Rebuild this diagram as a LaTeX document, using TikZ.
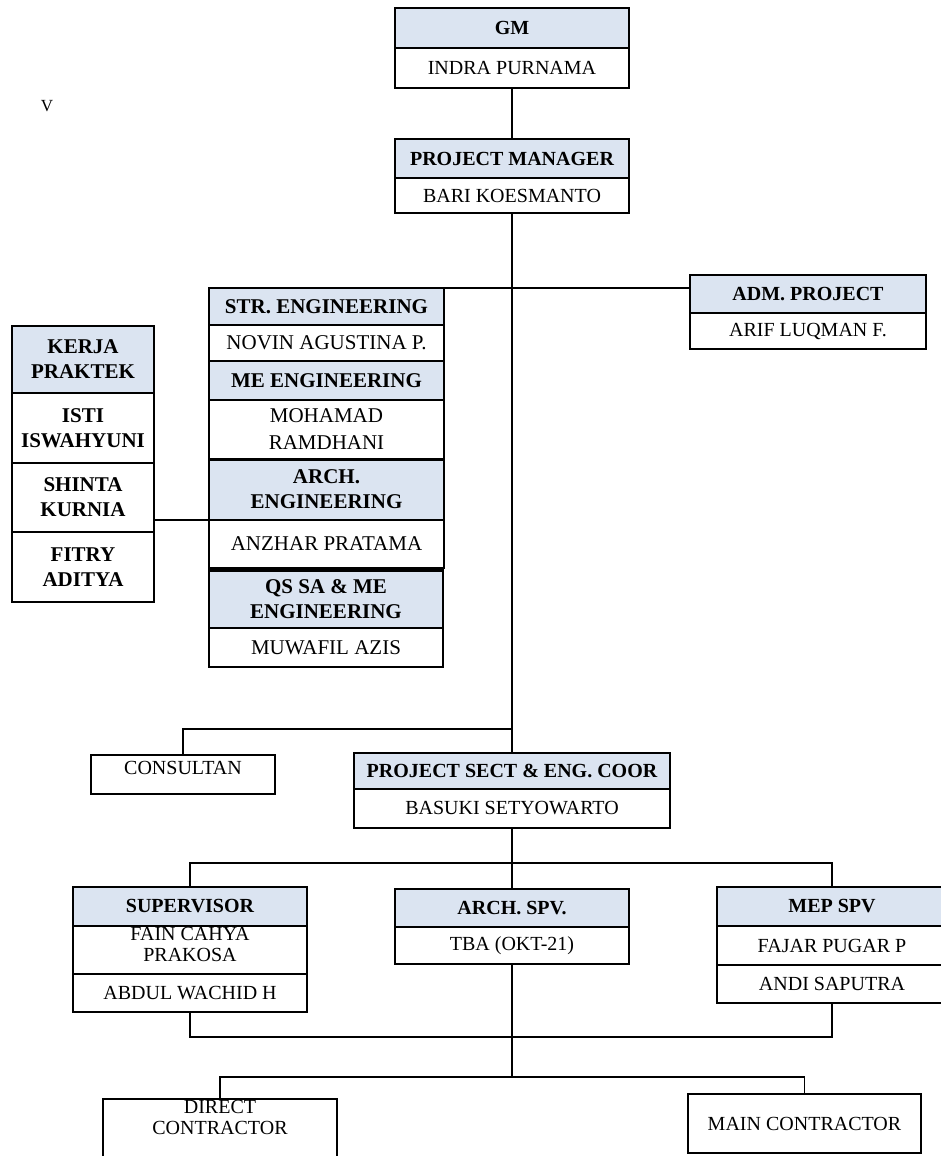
\documentclass[tikz,border=0pt]{standalone}
\usepackage{fontspec}
\setmainfont{Liberation Serif}
\definecolor{hdrblue}{RGB}{219,228,241}
\newcommand\cellnode[7]{%
  \pgfmathsetmacro\cnx{(#3+#5)/2}\pgfmathsetmacro\cny{(#4+#6)/2}%
  \pgfmathsetmacro\cnw{#5-#3}\pgfmathsetmacro\cnh{#6-#4}%
  \node[#1, minimum width=\cnw pt, minimum height=\cnh pt] (#2) at (\cnx,\cny) {#7};}
\tikzset{
  cellbase/.style={draw, line width=1.5pt, inner sep=0pt, outer sep=0pt, align=center},
  hdr/.style={cellbase, fill=hdrblue, font=\bfseries\fontsize{20}{23}\selectfont},
  nm/.style={cellbase, fill=white, font=\fontsize{20}{23}\selectfont},
  hdrL/.style={cellbase, fill=hdrblue, font=\bfseries\fontsize{21}{25}\selectfont},
  nmL/.style={cellbase, fill=white, font=\fontsize{21}{27}\selectfont},
  nmB/.style={cellbase, fill=white, font=\bfseries\fontsize{21}{25}\selectfont},
  plain/.style={cellbase, fill=white},
  txt/.style={inner sep=0pt, align=center, font=\fontsize{20}{21}\selectfont},
  conn/.style={line width=1.6pt},
  thick sep/.style={line width=3pt}
}
\begin{document}
\begin{tikzpicture}[x=1pt,y=-1pt]
\useasboundingbox (0,0) rectangle (941,1156);
% stray mark
\node[inner sep=0pt, font=\fontsize{17}{18}\selectfont] (vmark) at (47,106) {V};
% GM
\cellnode{hdr}{gmh}{395}{8}{629}{48}{GM}
\cellnode{nm}{gmn}{395}{48}{629}{88}{INDRA PURNAMA}
% PM
\cellnode{hdr}{pmh}{395}{139}{629}{178}{PROJECT MANAGER}
\cellnode{nm}{pmn}{395}{178}{629}{213}{BARI KOESMANTO}
% ADM
\cellnode{hdr}{admh}{690}{275}{926}{313}{ADM. PROJECT}
\cellnode{nm}{admn}{690}{313}{926}{349}{ARIF LUQMAN F.}
% stack
\cellnode{hdrL}{strh}{209}{288}{444}{325}{STR. ENGINEERING}
\cellnode{nmL}{strn}{209}{325}{444}{361}{NOVIN AGUSTINA P.}
\cellnode{hdrL}{meh}{209}{361}{444}{400}{ME ENGINEERING}
\cellnode{nmL}{men}{209}{400}{444}{459}{MOHAMAD\\RAMDHANI}
\cellnode{hdrL}{archh}{209}{459}{444}{520}{ARCH.\\ENGINEERING}
\cellnode{nmL}{archn}{209}{520}{444}{568}{ANZHAR PRATAMA}
\cellnode{hdrL}{qsh}{209}{570}{443}{628}{QS SA \& ME\\ENGINEERING}
\cellnode{nmL}{qsn}{209}{628}{443}{667}{MUWAFIL AZIS}
\draw[thick sep] (men.south west) -- (men.south east);
\draw[thick sep] (qsh.north west) -- (qsh.north east);
% Kerja praktek
\cellnode{hdrL}{kph}{12}{326}{154}{393}{KERJA\\PRAKTEK}
\cellnode{nmB}{kp1}{12}{393}{154}{463}{ISTI\\ISWAHYUNI}
\cellnode{nmB}{kp2}{12}{463}{154}{532}{SHINTA\\KURNIA}
\cellnode{nmB}{kp3}{12}{532}{154}{602}{FITRY\\ADITYA}
% consultan
\cellnode{plain}{cons}{91}{755}{275}{794}{}
\node[txt] (constx) at (183,768) {CONSULTAN};
% project sect
\cellnode{hdr}{psh}{354}{753}{670}{789}{PROJECT SECT \& ENG. COOR}
\cellnode{nm}{psn}{354}{789}{670}{828}{BASUKI SETYOWARTO}
% supervisors
\cellnode{hdr}{suph}{73}{887}{307}{926}{SUPERVISOR}
\cellnode{plain}{sup1}{73}{926}{307}{974}{}
\node[txt] (sup1tx) at (190,944) {FAIN CAHYA\\PRAKOSA};
\draw[line width=1.5pt] (suph.south west) -- (suph.south east);
\cellnode{nm}{sup2}{73}{974}{307}{1012}{ABDUL WACHID H}
\cellnode{hdr}{asph}{395}{889}{629}{927}{ARCH. SPV.}
\cellnode{nm}{aspn}{395}{927}{629}{964}{TBA (OKT-21)}
\cellnode{hdr}{meph}{717}{887}{947}{926}{MEP SPV}
\cellnode{nm}{mep1}{717}{926}{947}{965}{FAJAR PUGAR P}
\cellnode{nm}{mep2}{717}{965}{947}{1003}{ANDI SAPUTRA}
% contractors
\cellnode{plain}{dc}{103}{1099}{337}{1180}{}
\node[txt] (dctx) at (220,1117) {DIRECT\\CONTRACTOR};
\cellnode{nm}{mc}{688}{1094}{921}{1153}{MAIN CONTRACTOR}
% junction coordinates
\coordinate (cj) at (512,729);
\coordinate (sj) at (512,863);
\coordinate (bj) at (512,1037);
\coordinate (dj) at (512,1077);
% connectors
\draw[conn] (gmn.south) -- (pmh.north);
\draw[conn] (pmn.south) -- (psh.north);
\draw[conn] (strh.north east) -- (strh.north east -| admh.west);
\draw[conn] (kp2.east |- archh.south) -- (archh.south west);
\draw[conn] (cj) -| (cons.north);
\draw[conn] (psn.south) -- (asph.north);
\draw[conn] (suph.north) |- (sj) -| (meph.north);
\draw[conn] (sup2.south) -- (sup2.south |- bj) -- (mep2.south |- bj) -- (mep2.south);
\draw[conn] (aspn.south) -- (dj);
\draw[conn] (dc.north) -- (dc.north |- dj) -- (mc.north |- dj) -- (mc.north);
\end{tikzpicture}
\end{document}
